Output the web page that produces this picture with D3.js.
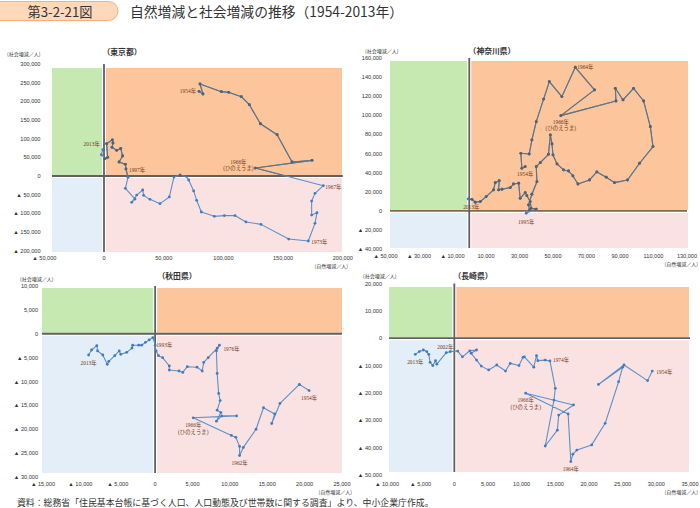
<!DOCTYPE html>
<html>
<head>
<meta charset="utf-8">
<script src="https://cdn.jsdelivr.net/npm/d3@7"></script>
<style>
body { margin: 0; background: #fff; }
svg { display: block; }
</style>
</head>
<body>
<script>
let w = 700
let h = 508

// 東京都: 自然増減 / 社会増減 (人), 1954 -> 2013
let tokyoNatural = [79600, 82900, 80400, 98300, 104400, 115000, 121700, 131000, 145000, 157500, 174200, 126800, 183700, 176700, 173900, 173900, 178400, 176700, 171100, 154700, 131500, 118900, 109700, 100800, 92400, 81500, 77600, 75100, 70900, 69000, 63700, 58600, 54700, 46900, 38500, 33200, 32400, 27400, 23200, 26000, 17900, 20100, 18400, 17900, 12600, 15600, 14000, 10600, 6700, 7500, 7000, 2200, 3100, 800, -2200, -1000]
let tokyoSocial = [226800, 219700, 246400, 225900, 224100, 212500, 191000, 140000, 110700, 37500, 42000, 21400, -25900, -46400, -67000, -104500, -98200, -126800, -174000, -168800, -129500, -123000, -106000, -106000, -108000, -96400, -65000, -40000, -10700, -1000, 2000, -2700, -56000, -74000, -62500, -51800, -37500, -51000, -70500, -61600, -33000, -3600, 18800, 31200, 37500, 53600, 74000, 68800, 76800, 88400, 97000, 86600, 50000, 46400, 57000, 70500]

// 神奈川県
let kanagawaNatural = [33400, 31400, 30800, 35800, 37400, 40000, 44400, 47800, 55300, 63300, 74800, 54700, 87600, 87200, 91800, 98100, 104100, 108100, 109700, 101700, 94500, 86700, 81800, 76200, 71800, 64900, 61900, 59300, 56300, 52400, 50000, 49400, 48400, 47300, 42400, 40000, 40400, 37400, 35400, 36000, 34000, 40000, 37000, 36400, 34400, 33400, 30400, 29500, 26400, 24500, 19500, 17500, 17900, 15500, 14500, 10100, 6600, 3600, 1600, -600]
let kanagawaSocial = [46400, 44600, 60300, 59600, 74300, 93400, 117000, 135300, 119600, 150300, 126600, 99700, 115000, 128300, 116100, 128300, 115000, 88200, 67300, 49900, 32400, 29600, 35300, 40800, 32400, 28200, 36600, 41800, 42900, 49200, 58600, 70100, 79500, 59300, 50500, 46300, 30600, 17500, 6300, 1000, -2400, 2000, 2800, 9800, 16000, 19100, 13200, 29000, 28200, 24500, 22700, 22000, 31700, 29600, 22000, 15000, 9800, 9100, 12200, 12600]

// 秋田県
let akitaNatural = [20600, 19300, 16700, 15600, 16000, 14500, 13500, 11800, 11300, 11300, 10800, 10200, 5100, 10900, 8900, 8200, 8800, 8300, 8700, 8500, 8300, 8200, 8600, 8300, 7100, 6500, 6300, 5600, 4300, 3700, 3200, 1900, 1900, 1000, 450, 130, 0, -300, -800, -1300, -1800, -2200, -3000, -3100, -3800, -4600, -4800, -5400, -6200, -6400, -7000, -7700, -7800, -8500, -8900]
let akitaSocial = [-11900, -10600, -14600, -18800, -16800, -15500, -20000, -23800, -25500, -23600, -21700, -21300, -17600, -17200, -17200, -18300, -16500, -16000, -14000, -12500, -8300, -3600, -2400, -3000, -5000, -6000, -7800, -7000, -6900, -8100, -7800, -7600, -6750, -5000, -4600, -3600, -2400, -800, -1300, -1800, -2400, -2400, -2400, -3000, -3900, -4300, -3600, -4600, -5800, -6400, -4450, -3600, -2500, -3400, -4450]

// 長崎県
let nagasakiNatural = [29400, 28700, 25200, 21400, 25000, 24400, 22400, 20400, 18200, 17600, 17300, 16900, 10600, 17700, 15500, 15300, 13500, 14800, 15000, 14200, 13500, 12400, 12200, 11800, 10400, 10200, 9600, 8300, 7600, 6300, 5100, 4000, 3300, 2500, 3300, 2300, 1200, 500, -600, -1200, -2600, -2800, -3200, -3600, -3800, -4100, -4600, -5200, -5800]
let nagasakiSocial = [-12000, -15500, -9800, -16900, -10600, -15900, -31100, -39000, -40900, -42400, -45100, -27700, -20100, -24400, -28100, -33600, -39400, -22600, -18300, -8300, -8000, -8200, -6400, -10600, -6800, -7000, -10000, -9200, -12000, -9800, -11600, -10200, -8000, -5500, -4300, -4600, -6800, -4700, -4900, -5300, -9500, -8200, -10000, -8800, -5900, -4900, -4300, -4900, -5900]

// tick values
let tokyoXTicks = [-50000, 0, 50000, 100000, 150000, 200000]
let tokyoYTicks = [-200000, -150000, -100000, -50000, 0, 50000, 100000, 150000, 200000, 250000, 300000]
let kanagawaXTicks = [-50000, -30000, -10000, 10000, 30000, 50000, 70000, 90000, 110000, 130000]
let kanagawaYTicks = [-40000, -20000, 0, 20000, 40000, 60000, 80000, 100000, 120000, 140000, 160000]
let akitaXTicks = [-15000, -10000, -5000, 0, 5000, 10000, 15000, 20000, 25000]
let akitaYTicks = [-30000, -25000, -20000, -15000, -10000, -5000, 0, 5000, 10000]
let nagasakiXTicks = [-10000, -5000, 0, 5000, 10000, 15000, 20000, 25000, 30000, 35000]
let nagasakiYTicks = [-50000, -40000, -30000, -20000, -10000, 0, 10000, 20000]

// year notes: index into the series
let tokyoNotes = [
  {i: 0, lines: ["1954年"], dx: -3, dy: 0, anchor: "end"},
  {i: 11, lines: ["1966年", "(ひのえうま)"], dx: -17, dy: -6.3, anchor: "middle"},
  {i: 12, lines: ["1967年"], dx: 2, dy: 1, anchor: "start"},
  {i: 18, lines: ["1973年"], dx: 3, dy: 1, anchor: "start"},
  {i: 42, lines: ["1997年"], dx: 3, dy: 1, anchor: "start"},
  {i: 55, lines: ["2013年"], dx: -3, dy: -5.5, anchor: "end"}
]
let kanagawaNotes = [
  {i: 0, lines: ["1954年"], dx: 0, dy: 7.5, anchor: "middle"},
  {i: 9, lines: ["1964年"], dx: 2, dy: -0.5, anchor: "start"},
  {i: 11, lines: ["1966年", "(ひのえうま)"], dx: 0, dy: 6, anchor: "middle"},
  {i: 40, lines: ["1995年"], dx: 0, dy: 8.7, anchor: "middle"},
  {i: 59, lines: ["2013年"], dx: 3, dy: 8, anchor: "middle"}
]
let akitaNotes = [
  {i: 0, lines: ["1954年"], dx: 0, dy: 7.5, anchor: "middle"},
  {i: 8, lines: ["1962年"], dx: 0, dy: 7.5, anchor: "middle"},
  {i: 12, lines: ["1966年", "(ひのえうま)"], dx: 0, dy: 7.5, anchor: "middle"},
  {i: 22, lines: ["1976年"], dx: 4, dy: 4, anchor: "start"},
  {i: 36, lines: ["1993年"], dx: 1, dy: 0, anchor: "start"},
  {i: 54, lines: ["2013年"], dx: 0, dy: 8, anchor: "middle"}
]
let nagasakiNotes = [
  {i: 0, lines: ["1954年"], dx: 4, dy: 1, anchor: "start"},
  {i: 10, lines: ["1964年"], dx: 0, dy: 7, anchor: "middle"},
  {i: 12, lines: ["1966年", "(ひのえうま)"], dx: 0, dy: 7, anchor: "middle"},
  {i: 19, lines: ["1974年"], dx: 3, dy: -1, anchor: "start"},
  {i: 38, lines: ["2002年"], dx: -5, dy: -5, anchor: "middle"},
  {i: 48, lines: ["2013年"], dx: 0, dy: 7.5, anchor: "middle"}
]

let panels = [
  {id: "tokyo", title: "（東京都）", nat: tokyoNatural, soc: tokyoSocial, notes: tokyoNotes,
   xDom: [-50000, 200000], yDom: [-200000, 300000], xTicks: tokyoXTicks, yTicks: tokyoYTicks,
   xRange: [44.3, 342.8], yRange: [250.7, 64], box: [52, 68, 342, 252],
   titleAt: [122, 51], yUnitAt: [7, 53], xUnitAt: [348, 265], xTickY: 258, yTickX: 40.5, hAxis: "#606060"},
  {id: "kanagawa", title: "（神奈川県）", nat: kanagawaNatural, soc: kanagawaSocial, notes: kanagawaNotes,
   xDom: [-50000, 130000], yDom: [-40000, 160000], xTicks: kanagawaXTicks, yTicks: kanagawaYTicks,
   xRange: [385.5, 687], yRange: [249.2, 58], box: [390, 61, 688, 248],
   titleAt: [492, 50], yUnitAt: [365, 50], xUnitAt: [698, 263], xTickY: 256, yTickX: 382, hAxis: "#8a6650"},
  {id: "akita", title: "（秋田県）", nat: akitaNatural, soc: akitaSocial, notes: akitaNotes,
   xDom: [-15000, 25000], yDom: [-30000, 10000], xTicks: akitaXTicks, yTicks: akitaYTicks,
   xRange: [43, 342], yRange: [477, 286], box: [42, 288, 342, 473],
   titleAt: [177, 275], yUnitAt: [20, 278], xUnitAt: [352, 491], xTickY: 484, yTickX: 38, hAxis: "#606060"},
  {id: "nagasaki", title: "（長崎県）", nat: nagasakiNatural, soc: nagasakiSocial, notes: nagasakiNotes,
   xDom: [-10000, 35000], yDom: [-50000, 20000], xTicks: nagasakiXTicks, yTicks: nagasakiYTicks,
   xRange: [387, 690], yRange: [475, 283.5], box: [389, 287, 689, 472],
   titleAt: [473, 275], yUnitAt: [363, 275], xUnitAt: [698, 491], xTickY: 484, yTickX: 382, hAxis: "#606060"}
]

let tickFont = "'Liberation Sans', 'Noto Sans CJK JP', sans-serif"
let noteFont = "'Liberation Serif', 'Noto Sans CJK JP', serif"
let jpFont = "'Noto Sans CJK JP', sans-serif"

let numFmt = d3.format(",")
let tickText = (d)=> d < 0 ? "▲ " + numFmt(-d) : numFmt(d)

let svg = d3.select("body").append("svg")
  .attr("width", w)
  .attr("height", h)

// header
svg.append("rect")
  .attr("x", -14).attr("y", 1.5)
  .attr("width", 132).attr("height", 19)
  .attr("rx", 9.5)
  .attr("fill", "#fdd8bb")
  .attr("stroke", "#f1b184")
  .attr("stroke-width", 1)

svg.append("text")
  .text("第3-2-21図")
  .attr("x", 60).attr("y", 16.5)
  .attr("text-anchor", "middle")
  .attr("fill", "#333")
  .style("font-family", jpFont)
  .style("font-size", "13.2px")

svg.append("text")
  .text("自然増減と社会増減の推移（1954-2013年）")
  .attr("x", 130).attr("y", 16.5)
  .attr("fill", "#333")
  .style("font-family", jpFont)
  .style("font-size", "13.8px")

svg.append("text")
  .text("資料：総務省「住民基本台帳に基づく人口、人口動態及び世帯数に関する調査」より、中小企業庁作成。")
  .attr("x", 17).attr("y", 505.5)
  .attr("fill", "#333")
  .style("font-family", jpFont)
  .style("font-size", "8.9px")

let drawPanel = (p)=>{
  let x = d3.scaleLinear().domain(p.xDom).range(p.xRange)
  let y = d3.scaleLinear().domain(p.yDom).range(p.yRange)
  let g = svg.append("g").attr("id", p.id)
  let x0 = x(0)
  let y0 = y(0)
  let bl = p.box[0], bt = p.box[1], br = p.box[2], bb = p.box[3]

  let quads = [
    {x1: bl, y1: bt, x2: x0 - 2, y2: y0 - 1, c: "#c5e9b0"},
    {x1: x0 + 2, y1: bt, x2: br, y2: y0 - 1, c: "#fdc59b"},
    {x1: bl, y1: y0 + 2, x2: x0 - 2, y2: bb, c: "#e4eef8"},
    {x1: x0 + 2, y1: y0 + 2, x2: br, y2: bb, c: "#fbe2e2"}
  ]
  g.selectAll(".quad")
    .data(quads)
    .enter()
    .append("rect")
    .attr("class", "quad")
    .attr("x", d=>d.x1)
    .attr("y", d=>d.y1)
    .attr("width", d=>d.x2 - d.x1)
    .attr("height", d=>d.y2 - d.y1)
    .attr("fill", d=>d.c)

  // axes
  g.append("line")
    .attr("x1", bl).attr("x2", p.xRange[1])
    .attr("y1", y0).attr("y2", y0)
    .attr("stroke", p.hAxis).attr("stroke-width", 1.8)
  g.append("line")
    .attr("x1", x0).attr("x2", x0)
    .attr("y1", p.yRange[1]).attr("y2", bb)
    .attr("stroke", "#606060").attr("stroke-width", 1.8)

  // tick labels
  g.selectAll(".xt")
    .data(p.xTicks)
    .enter()
    .append("text")
    .attr("class", "xt")
    .text(tickText)
    .attr("x", d=>x(d))
    .attr("y", p.xTickY)
    .attr("text-anchor", "middle")
    .attr("dominant-baseline", "central")
    .attr("fill", "#333")
    .style("font-family", tickFont)
    .style("font-size", "5.6px")

  g.selectAll(".yt")
    .data(p.yTicks)
    .enter()
    .append("text")
    .attr("class", "yt")
    .text(tickText)
    .attr("x", p.yTickX)
    .attr("y", d=>y(d))
    .attr("text-anchor", "end")
    .attr("dominant-baseline", "central")
    .attr("fill", "#333")
    .style("font-family", tickFont)
    .style("font-size", "5.6px")

  g.append("text")
    .text(p.title)
    .attr("x", p.titleAt[0]).attr("y", p.titleAt[1])
    .attr("text-anchor", "middle")
    .attr("dominant-baseline", "central")
    .attr("fill", "#333")
    .style("font-family", jpFont)
    .style("font-weight", "bold")
    .style("font-size", "7.8px")

  g.append("text")
    .text("(社会増減／人)")
    .attr("x", p.yUnitAt[0]).attr("y", p.yUnitAt[1])
    .attr("dominant-baseline", "central")
    .attr("fill", "#333")
    .style("font-family", jpFont)
    .style("font-size", "5px")

  g.append("text")
    .text("(自然増減／人)")
    .attr("x", p.xUnitAt[0]).attr("y", p.xUnitAt[1])
    .attr("text-anchor", "end")
    .attr("dominant-baseline", "central")
    .attr("fill", "#333")
    .style("font-family", jpFont)
    .style("font-size", "5px")

  // trajectory
  let pts = p.nat.map((v, i)=>[v, p.soc[i]])
  let line = d3.line().x(d=>x(d[0])).y(d=>y(d[1]))

  let clipId = "clip-" + p.id
  svg.append("clipPath")
    .attr("id", clipId)
    .append("rect")
    .attr("x", x0)
    .attr("y", p.yRange[1] - 10)
    .attr("width", p.xRange[1] - x0 + 10)
    .attr("height", y0 - p.yRange[1] + 10)

  let drawTrack = (parent, lineColor, dotColor)=>{
    parent.append("path")
      .attr("d", line(pts))
      .attr("fill", "none")
      .attr("stroke", lineColor)
      .attr("stroke-width", 1.1)
      .attr("stroke-linejoin", "round")
    parent.selectAll("circle")
      .data(pts)
      .enter()
      .append("circle")
      .attr("cx", d=>x(d[0]))
      .attr("cy", d=>y(d[1]))
      .attr("r", 1.4)
      .attr("fill", dotColor)
  }

  drawTrack(g.append("g"), "#5b90c9", "#3f7bbf")
  drawTrack(g.append("g").attr("clip-path", "url(#" + clipId + ")"), "#67727b", "#56606a")

  // year notes
  p.notes.forEach((n)=>{
    let px = x(p.nat[n.i]) + n.dx
    let py = y(p.soc[n.i]) + n.dy
    n.lines.forEach((t, k)=>{
      g.append("text")
        .text(t)
        .attr("x", px)
        .attr("y", py + k * 6.5)
        .attr("text-anchor", n.anchor)
        .attr("dominant-baseline", "central")
        .attr("fill", "#6e3a22")
        .style("font-family", noteFont)
        .style("font-size", "5.4px")
    })
  })
}

panels.forEach(drawPanel)
</script>
</body>
</html>
